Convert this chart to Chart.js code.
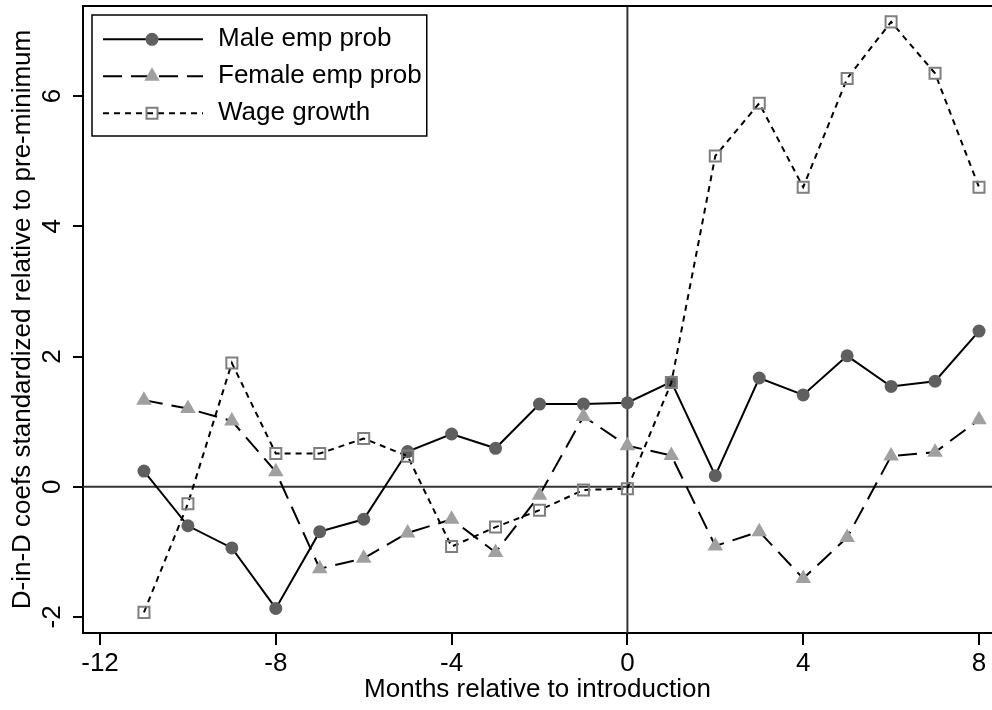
<!DOCTYPE html>
<html>
<head>
<meta charset="utf-8">
<script src="https://cdn.jsdelivr.net/npm/chart.js@4.4.0/dist/chart.umd.min.js"></script>
<style>
  html, body { margin: 0; padding: 0; background: #fff; }
</style>
</head>
<body>
<canvas id="chart" width="992" height="710"></canvas>
<script>
const months = [-11, -10, -9, -8, -7, -6, -5, -4, -3, -2, -1, 0, 1, 2, 3, 4, 5, 6, 7, 8];
const maleEmp = [0.24, -0.60, -0.94, -1.87, -0.69, -0.50, 0.54, 0.81, 0.59, 1.27, 1.27, 1.29, 1.61, 0.17, 1.67, 1.41, 2.01, 1.54, 1.62, 2.39];
const femaleEmp = [1.33, 1.20, 1.01, 0.23, -1.26, -1.10, -0.71, -0.50, -1.01, -0.13, 1.08, 0.63, 0.48, -0.91, -0.69, -1.41, -0.78, 0.47, 0.53, 1.03];
const wageGrowth = [-1.93, -0.26, 1.90, 0.51, 0.51, 0.74, 0.47, -0.92, -0.62, -0.36, -0.05, -0.03, 1.60, 5.08, 5.89, 4.60, 6.27, 7.14, 6.35, 4.60];
const xTicks = [-12, -8, -4, 0, 4, 8];
const yTicks = [-2, 0, 2, 4, 6];
const seriesNames = ["Male emp prob", "Female emp prob", "Wage growth"];

const FONT = "'Liberation Sans', Arial, Helvetica, sans-serif";
Chart.defaults.font.family = FONT;
Chart.defaults.color = "#000";

const toPoints = (ys) => months.map((m, i) => ({ x: m, y: ys[i] }));

// draw one marker the same way chart.js does
function marker(ctx, style, x, y) {
  ctx.save();
  ctx.setLineDash([]);
  ctx.beginPath();
  if (style === "circle") {
    ctx.arc(x, y, 6.5, 0, Math.PI * 2);
    ctx.fillStyle = "#5f5f5f";
    ctx.fill();
  } else if (style === "triangle") {
    const r = 9;
    ctx.moveTo(x, y - r);
    ctx.lineTo(x + Math.sin(2 * Math.PI / 3) * r, y + r / 2);
    ctx.lineTo(x - Math.sin(2 * Math.PI / 3) * r, y + r / 2);
    ctx.closePath();
    ctx.fillStyle = "#a0a0a0";
    ctx.fill();
  } else {
    const s = 7.8 / Math.SQRT2;
    ctx.rect(x - s, y - s, 2 * s, 2 * s);
    ctx.strokeStyle = "#7f7f7f";
    ctx.lineWidth = 2;
    ctx.stroke();
  }
  ctx.restore();
}

const stataFrame = {
  id: "stataFrame",
  beforeDatasetsDraw(chart) {
    const { ctx, chartArea: a, scales } = chart;
    ctx.save();
    ctx.strokeStyle = "#333";
    ctx.lineWidth = 2;
    const y0 = scales.y.getPixelForValue(0);
    const x0 = scales.x.getPixelForValue(0);
    ctx.beginPath();
    ctx.moveTo(a.left, y0);
    ctx.lineTo(a.right, y0);
    ctx.moveTo(x0, a.top);
    ctx.lineTo(x0, a.bottom);
    ctx.stroke();
    ctx.strokeStyle = "#000";
    ctx.beginPath();
    ctx.moveTo(a.left, a.top);
    ctx.lineTo(a.right, a.top);
    ctx.stroke();
    ctx.restore();
  },
  afterDraw(chart) {
    const { ctx, chartArea: a, scales } = chart;
    ctx.save();
    ctx.fillStyle = "#000";
    ctx.font = "26px " + FONT;
    // rotated y tick labels
    ctx.textAlign = "center";
    ctx.textBaseline = "middle";
    yTicks.forEach((v) => {
      ctx.save();
      ctx.translate(a.left - 30.5, scales.y.getPixelForValue(v));
      ctx.rotate(-Math.PI / 2);
      ctx.fillText(String(v), 0, 0);
      ctx.restore();
    });

    // legend
    const lx = a.left + 9, ly = a.top + 9;
    const styles = ["circle", "triangle", "rect"];
    const dashes = [[], [19, 9], [6, 5]];
    ctx.textAlign = "left";
    let w = 0;
    seriesNames.forEach((n) => { w = Math.max(w, ctx.measureText(n).width); });
    ctx.strokeStyle = "#000";
    ctx.lineWidth = 1.5;
    ctx.strokeRect(lx, ly, 126 + w + 5, 121);
    seriesNames.forEach((name, i) => {
      const cy = ly + 24.3 + i * 37;
      ctx.save();
      ctx.strokeStyle = "#000";
      ctx.lineWidth = 2;
      ctx.setLineDash(dashes[i]);
      ctx.beginPath();
      ctx.moveTo(lx + 11, cy);
      ctx.lineTo(lx + 111, cy);
      ctx.stroke();
      ctx.restore();
      marker(ctx, styles[i], lx + 60, cy);
      ctx.fillText(name, lx + 126, cy);
    });
    ctx.restore();
  }
};

const axisFont = { family: FONT, size: 26, lineHeight: 1 };

new Chart(document.getElementById("chart").getContext("2d"), {
  type: "line",
  data: {
    datasets: [
      {
        label: seriesNames[0],
        data: toPoints(maleEmp),
        borderColor: "#000",
        borderWidth: 2,
        pointStyle: "circle",
        pointRadius: 6.5,
        pointBackgroundColor: "#5f5f5f",
        pointBorderWidth: 0,
        order: 2,
      },
      {
        label: seriesNames[1],
        data: toPoints(femaleEmp),
        borderColor: "#000",
        borderWidth: 2,
        borderDash: [19, 9],
        pointStyle: "triangle",
        pointRadius: 9,
        pointBackgroundColor: "#a0a0a0",
        pointBorderWidth: 0,
        order: 1,
      },
      {
        label: seriesNames[2],
        data: toPoints(wageGrowth),
        borderColor: "#000",
        borderWidth: 2,
        borderDash: [6, 5],
        pointStyle: "rect",
        pointRadius: 7.8,
        pointBackgroundColor: "rgba(0,0,0,0)",
        pointBorderColor: "#7f7f7f",
        pointBorderWidth: 2,
        order: 0,
      },
    ],
  },
  options: {
    responsive: false,
    animation: false,
    devicePixelRatio: 1,
    layout: { autoPadding: false, padding: { top: 6, right: 0, bottom: 0, left: 0 } },
    plugins: { legend: { display: false }, tooltip: { enabled: false } },
    scales: {
      x: {
        type: "linear",
        min: -12.387,
        max: 8.296,
        afterBuildTicks: (s) => { s.ticks = xTicks.map((v) => ({ value: v })); },
        afterFit: (s) => { s.height = 77; s.paddingLeft = 0; s.paddingRight = 0; },
        grid: { drawOnChartArea: false, drawTicks: true, tickLength: 12, color: "#000", lineWidth: 2 },
        border: { display: true, color: "#000", width: 2 },
        ticks: { padding: 6, color: "#000", font: axisFont, maxRotation: 0, autoSkip: false },
        title: { display: true, text: "Months relative to introduction", color: "#000", font: axisFont, padding: { top: 0, bottom: 7 } },
      },
      y: {
        type: "linear",
        min: -2.247,
        max: 7.384,
        afterBuildTicks: (s) => { s.ticks = yTicks.map((v) => ({ value: v })); },
        afterFit: (s) => { s.width = 83; s.paddingTop = 0; s.paddingBottom = 0; },
        grid: { drawOnChartArea: false, drawTicks: true, tickLength: 10, color: "#000", lineWidth: 2 },
        border: { display: true, color: "#000", width: 2 },
        ticks: { display: false },
        title: { display: true, text: "D-in-D coefs standardized relative to pre-minimum", color: "#000", font: axisFont, padding: { top: 10, bottom: 0 } },
      },
    },
  },
  plugins: [stataFrame],
});
</script>
</body>
</html>
